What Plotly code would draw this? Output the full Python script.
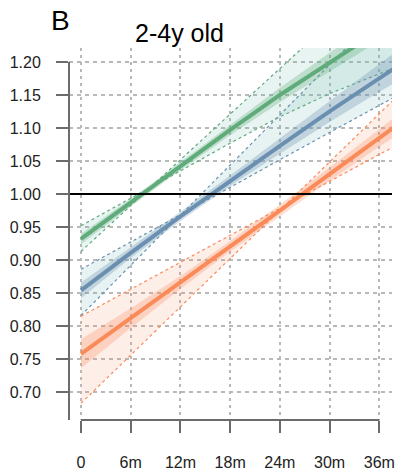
import plotly.graph_objects as go

months = [0, 6, 12, 18, 24, 30, 36, 38]
x_tickvals = [0, 6, 12, 18, 24, 30, 36]
x_ticktext = ["0", "6m", "12m", "18m", "24m", "30m", "36m"]
y_tickvals = [0.70, 0.75, 0.80, 0.85, 0.90, 0.95, 1.00, 1.05, 1.10, 1.15, 1.20]
y_ticktext = ["0.70", "0.75", "0.80", "0.85", "0.90", "0.95", "1.00", "1.05", "1.10", "1.15", "1.20"]

green_mid = [0.932, 0.987, 1.042, 1.097, 1.150, 1.200, 1.248, 1.264]
green_hi = [0.940, 0.993, 1.048, 1.105, 1.161, 1.214, 1.264, 1.282]
green_lo = [0.924, 0.981, 1.036, 1.089, 1.139, 1.186, 1.232, 1.246]
green_dash_a = [0.913, 0.983, 1.052, 1.121, 1.190, 1.259, 1.328, 1.351]
green_dash_b = [0.952, 0.993, 1.035, 1.077, 1.117, 1.152, 1.183, 1.192]

blue_mid = [0.854, 0.911, 0.966, 1.020, 1.073, 1.125, 1.176, 1.192]
blue_hi = [0.866, 0.919, 0.973, 1.028, 1.085, 1.141, 1.197, 1.215]
blue_lo = [0.842, 0.903, 0.959, 1.012, 1.061, 1.109, 1.155, 1.169]
blue_dash_c = [0.886, 0.927, 0.969, 1.010, 1.052, 1.093, 1.134, 1.148]
blue_dash_d = [0.816, 0.892, 0.968, 1.044, 1.120, 1.196, 1.272, 1.297]

orange_mid = [0.758, 0.812, 0.866, 0.921, 0.975, 1.030, 1.085, 1.103]
orange_hi = [0.780, 0.827, 0.876, 0.929, 0.984, 1.040, 1.098, 1.118]
orange_lo = [0.736, 0.797, 0.856, 0.913, 0.966, 1.020, 1.072, 1.088]
orange_dash_e = [0.815, 0.856, 0.897, 0.937, 0.978, 1.019, 1.060, 1.073]
orange_dash_f = [0.683, 0.756, 0.829, 0.903, 0.976, 1.049, 1.122, 1.146]

series = [
    dict(mid=green_mid, hi=green_hi, lo=green_lo, da=green_dash_a, db=green_dash_b,
         line="#5fab7a", band="rgba(95,171,122,0.30)", outer="rgba(120,195,180,0.18)"),
    dict(mid=blue_mid, hi=blue_hi, lo=blue_lo, da=blue_dash_c, db=blue_dash_d,
         line="#6a8fb0", band="rgba(106,143,176,0.30)", outer="rgba(120,190,190,0.18)"),
    dict(mid=orange_mid, hi=orange_hi, lo=orange_lo, da=orange_dash_e, db=orange_dash_f,
         line="#fa8a58", band="rgba(250,138,88,0.28)", outer="rgba(250,150,110,0.16)"),
]

fig = go.Figure()
# outer (dashed) bands
for s in series:
    fig.add_trace(go.Scatter(x=months, y=s["da"], mode="lines",
                             line=dict(color=s["line"], width=1.2, dash="3px,3px"),
                             hoverinfo="skip", showlegend=False))
    fig.add_trace(go.Scatter(x=months, y=s["db"], mode="lines", fill="tonexty",
                             fillcolor=s["outer"],
                             line=dict(color=s["line"], width=1.2, dash="3px,3px"),
                             hoverinfo="skip", showlegend=False))
# inner bands
for s in series:
    fig.add_trace(go.Scatter(x=months, y=s["lo"], mode="lines",
                             line=dict(width=0, color=s["band"]),
                             hoverinfo="skip", showlegend=False))
    fig.add_trace(go.Scatter(x=months, y=s["hi"], mode="lines", fill="tonexty",
                             fillcolor=s["band"], line=dict(width=0, color=s["band"]),
                             hoverinfo="skip", showlegend=False))
# centre lines
for s in series:
    fig.add_trace(go.Scatter(x=months, y=s["mid"], mode="lines",
                             line=dict(color=s["line"], width=4),
                             hoverinfo="skip", showlegend=False))

axis_col = "#6b6b6b"
font_fam = "Liberation Sans, Arial, Helvetica, sans-serif"

fig.update_layout(
    width=398, height=471,
    margin=dict(l=69, r=6, t=48, b=51),
    paper_bgcolor="white", plot_bgcolor="white",
    font=dict(family=font_fam, size=16, color="#222222"),
    xaxis=dict(range=[-1.448, 37.53], tickvals=x_tickvals, ticktext=x_ticktext,
               ticks="outside", ticklen=12, tickwidth=2, tickcolor=axis_col,
               showline=False, zeroline=False, showgrid=True, automargin=False,
               gridcolor="#b8b8b8", gridwidth=1.5, griddash="3px,4px",
               ticklabelstandoff=16, tickfont=dict(size=16, color="#222222")),
    yaxis=dict(range=[0.6578, 1.2211], tickvals=y_tickvals, ticktext=y_ticktext,
               ticks="outside", ticklen=12, tickwidth=2, tickcolor=axis_col,
               showline=False, zeroline=False, showgrid=True, automargin=False,
               gridcolor="#b8b8b8", gridwidth=1.5, griddash="4px,4px",
               ticklabelstandoff=12, tickfont=dict(size=16, color="#222222")),
    shapes=[
        dict(type="line", xref="paper", yref="y", x0=0, x1=1, y0=1.0, y1=1.0,
             line=dict(color="black", width=2)),
        dict(type="line", xref="paper", yref="y", x0=0, x1=0, y0=0.6578, y1=1.20,
             line=dict(color=axis_col, width=2)),
        dict(type="line", xref="x", yref="paper", x0=0, x1=36, y0=0, y1=0,
             line=dict(color=axis_col, width=2)),
    ],
    annotations=[
        dict(text="B", xref="paper", yref="paper", x=-0.025, y=1.075,
             xanchor="center", yanchor="middle", showarrow=False,
             font=dict(size=28, color="black", family=font_fam)),
        dict(text="2-4y old", xref="paper", yref="paper", x=0.343, y=1.04,
             xanchor="center", yanchor="middle", showarrow=False,
             font=dict(size=25, color="black", family=font_fam)),
    ],
)

fig.write_html("out.html")
